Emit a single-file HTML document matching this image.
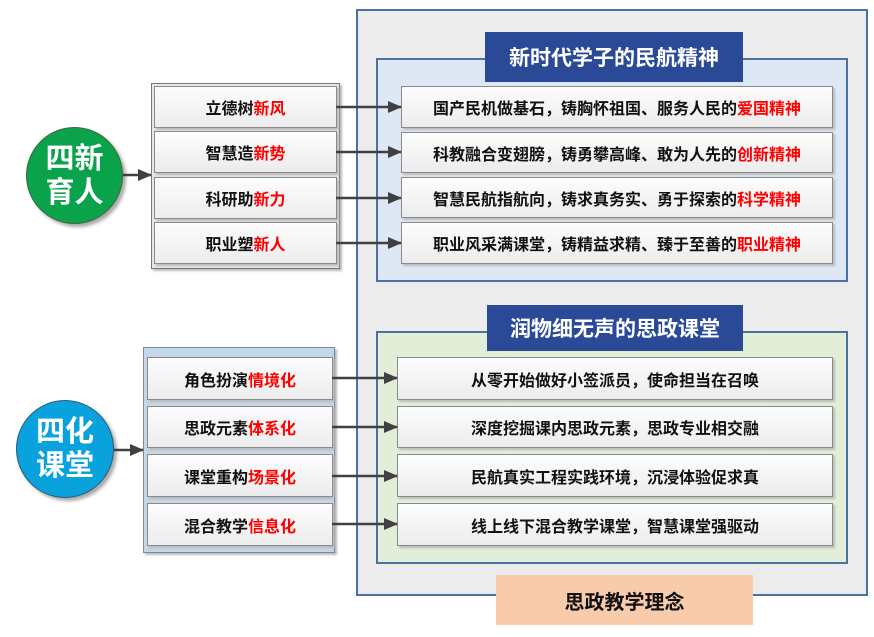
<!DOCTYPE html><html><head><meta charset="utf-8"><style>
body{margin:0;width:874px;height:637px;background:#fff;position:relative;font-family:"Liberation Sans","Noto Sans CJK SC",sans-serif;overflow:hidden}
div{position:absolute;box-sizing:border-box}
.row{background:linear-gradient(#fdfdfd,#ececec);border:1px solid #8a8a8a;box-shadow:2px 2px 2px #bbb;font-weight:bold;font-size:16px;color:#111;display:flex;align-items:center;justify-content:center}
.r{color:#f00}
.title{background:#2a4a98;color:#fff;font-weight:bold;font-size:21px;display:flex;align-items:center;justify-content:center}
.circ{border-radius:50%;color:#fff;font-weight:bold;font-size:29px;line-height:34px;text-align:center;display:flex;align-items:center;justify-content:center;box-shadow:3px 3px 3px #aaa}
svg{position:absolute;left:0;top:0}
</style></head><body>
<div style="left:356px;top:9px;width:512px;height:587px;background:#ececec;border:2px solid #4a71a0"></div>
<div style="left:376px;top:58px;width:472px;height:224px;background:#dde8f4;border:2px solid #4a71a0"></div>
<div class="title" style="left:485px;top:32px;width:258px;height:50px">新时代学子的民航精神</div>
<div style="left:376px;top:331px;width:472px;height:233px;background:#e2eed8;border:2px solid #4a71a0"></div>
<div class="title" style="left:487px;top:305px;width:256px;height:46px">润物细无声的思政课堂</div>
<div style="left:496px;top:575px;width:257px;height:50px;background:#f8cbab;font-weight:bold;font-size:20px;display:flex;align-items:center;justify-content:center;color:#111">思政教学理念</div>

<div class="row" style="left:401px;top:86px;width:432px;height:42px">国产民机做基石，铸胸怀祖国、服务人民的<span class="r">爱国精神</span></div>
<div class="row" style="left:401px;top:132px;width:432px;height:41px">科教融合变翅膀，铸勇攀高峰、敢为人先的<span class="r">创新精神</span></div>
<div class="row" style="left:401px;top:177px;width:432px;height:41px">智慧民航指航向，铸求真务实、勇于探索的<span class="r">科学精神</span></div>
<div class="row" style="left:401px;top:222px;width:432px;height:42px">职业风采满课堂，铸精益求精、臻于至善的<span class="r">职业精神</span></div>

<div class="row" style="left:397px;top:357px;width:436px;height:43px">从零开始做好小签派员，使命担当在召唤</div>
<div class="row" style="left:397px;top:406px;width:436px;height:42px">深度挖掘课内思政元素，思政专业相交融</div>
<div class="row" style="left:397px;top:454px;width:436px;height:43px">民航真实工程实践环境，沉浸体验促求真</div>
<div class="row" style="left:397px;top:503px;width:436px;height:43px">线上线下混合教学课堂，智慧课堂强驱动</div>

<div style="left:151px;top:83px;width:189px;height:186px;background:#e6e8e0;border:1px solid #7a7a7a;box-shadow:2px 2px 2px #bbb"></div>
<div class="row" style="left:154px;top:86px;width:183px;height:42px">立德树<span class="r">新风</span></div>
<div class="row" style="left:154px;top:131px;width:183px;height:42px">智慧造<span class="r">新势</span></div>
<div class="row" style="left:154px;top:177px;width:183px;height:42px">科研助<span class="r">新力</span></div>
<div class="row" style="left:154px;top:222px;width:183px;height:42px">职业塑<span class="r">新人</span></div>

<div style="left:143px;top:347px;width:192px;height:206px;background:#c4d6e8;border:1px solid #7a8a9a;box-shadow:2px 2px 2px #bbb"></div>
<div class="row" style="left:147px;top:357px;width:186px;height:43px">角色扮演<span class="r">情境化</span></div>
<div class="row" style="left:147px;top:406px;width:186px;height:42px">思政元素<span class="r">体系化</span></div>
<div class="row" style="left:147px;top:454px;width:186px;height:43px">课堂重构<span class="r">场景化</span></div>
<div class="row" style="left:147px;top:503px;width:186px;height:43px">混合教学<span class="r">信息化</span></div>

<div class="circ" style="left:26px;top:127px;width:97px;height:97px;background:#0aa24a;border:1px solid #3a6a3a">四新<br>育人</div>
<div class="circ" style="left:16px;top:400px;width:98px;height:98px;background:#0aa2dc;border:1px solid #2a5a7a">四化<br>课堂</div>

<svg width="874" height="637"><defs><marker id="a" markerWidth="14" markerHeight="12" refX="13" refY="6" orient="auto" markerUnits="userSpaceOnUse"><path d="M0,0L14,6L0,12z" fill="#404040"/></marker></defs>
<g stroke="#404040" stroke-width="2.5" marker-end="url(#a)">
<line x1="123" y1="175" x2="151" y2="175"/>
<line x1="114" y1="450" x2="143" y2="450"/>
<line x1="336" y1="107" x2="401" y2="107"/>
<line x1="336" y1="152" x2="401" y2="152"/>
<line x1="336" y1="198" x2="401" y2="198"/>
<line x1="336" y1="243" x2="401" y2="243"/>
<line x1="332" y1="378" x2="397" y2="378"/>
<line x1="332" y1="427" x2="397" y2="427"/>
<line x1="332" y1="476" x2="397" y2="476"/>
<line x1="332" y1="524" x2="397" y2="524"/>
</g></svg>
</body></html>
